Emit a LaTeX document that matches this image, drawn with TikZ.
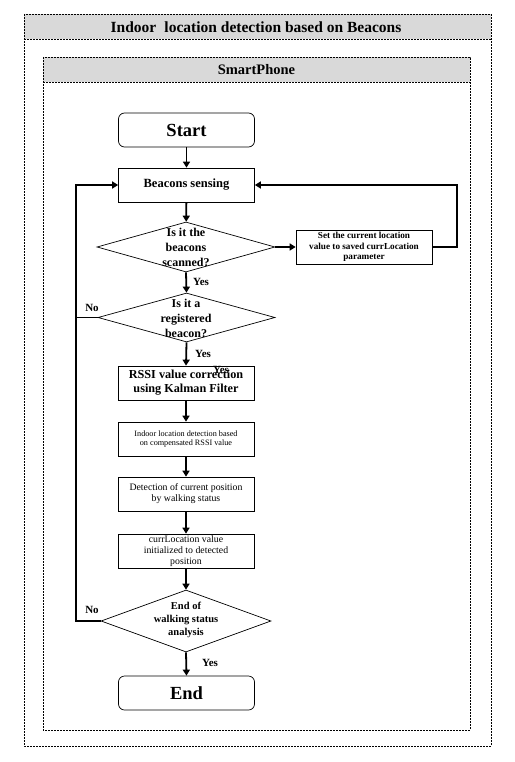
\documentclass[tikz,border=0pt]{standalone}
\usepackage{fontspec}
\setmainfont{Liberation Serif}
\usetikzlibrary{shapes.geometric,arrows.meta}
\definecolor{hdrgray}{HTML}{D9D9D9}
\tikzset{
  frame/.style={draw=black,line width=0.6pt,dash pattern=on 2pt off 1pt},
  box/.style={draw=black,line width=0.7pt,minimum width=136pt,minimum height=34pt,inner sep=0pt,align=center},
  term/.style={box,rounded corners=6pt,font=\fontsize{18.5}{20}\selectfont\bfseries},
  dia/.style={draw=black,line width=0.7pt,diamond,inner sep=0pt},
  flow/.style={line width=1.8pt,-{Triangle[length=6pt,width=7pt]}},
  plain/.style={line width=1.8pt},
  yn/.style={font=\fontsize{11}{12}\selectfont\bfseries,inner sep=0pt}
}
\begin{document}
\begin{tikzpicture}[x=1pt,y=-1pt]
\useasboundingbox (0,0) rectangle (514,762);
% outer frame
\fill[hdrgray] (24,14) rectangle (491,39);
\draw[frame] (24,14) rectangle (491,746);
\draw[frame] (24,39) -- (491,39);
\node[font=\fontsize{15.5}{17}\selectfont\bfseries] (title) at (256,27) {Indoor\; location detection based on Beacons};
% inner frame
\fill[hdrgray] (43,57) rectangle (470,82);
\draw[frame] (43,57) rectangle (470,730);
\draw[frame] (43,82) -- (470,82);
\node[font=\fontsize{14.5}{16}\selectfont\bfseries] (phone) at (256.5,70) {SmartPhone};
% nodes
\node[term] (start) at (186.5,130) {Start};
\node[box,font=\fontsize{12.5}{14}\selectfont\bfseries] (bs) at (186.5,185) {Beacons sensing};
\node[dia,minimum width=178pt,minimum height=50pt] (d1) at (186,247) {};
\node[font=\fontsize{12}{15}\selectfont\bfseries,align=center,inner sep=0pt] (d1t) at (186,247) {Is it the\\beacons\\scanned?};
\node[draw=black,line width=0.7pt,minimum width=136pt,minimum height=34pt,inner sep=0pt,align=center,font=\fontsize{9.2}{10.5}\selectfont\bfseries] (set) at (364,247) {Set the current location\\value to saved currLocation\\parameter};
\node[dia,minimum width=177pt,minimum height=49pt] (d2) at (186.5,317.5) {};
\node[font=\fontsize{12}{15}\selectfont\bfseries,align=center,inner sep=0pt] (d2t) at (186,318) {Is it a\\registered\\beacon?};
\node[box,font=\fontsize{12.2}{14}\selectfont\bfseries] (rssi) at (186,383) {RSSI value correction\\using Kalman Filter};
\node[box,font=\fontsize{8.2}{9.5}\selectfont] (ild) at (186,439) {Indoor location detection based\\on compensated RSSI value};
\node[box,font=\fontsize{9.8}{11}\selectfont] (det) at (186,494) {Detection of current position\\by walking status};
\node[box,font=\fontsize{9.8}{11.2}\selectfont] (cur) at (186,551) {currLocation value\\initialized to detected\\position};
\node[dia,minimum width=170pt,minimum height=62pt] (d3) at (186,621) {};
\node[font=\fontsize{10.5}{13}\selectfont\bfseries,align=center,inner sep=0pt] (d3t) at (186,620) {End of\\walking status\\analysis};
\node[term] (end) at (186.5,693) {End};
% loop coordinates
\coordinate (lt) at (76,185);
\coordinate (rt) at (457,185);
% connectors
\draw[flow] (start) -- (bs);
\draw[flow] (bs) -- (d1);
\draw[flow] (d1.east) -- (set.west);
\draw[flow] (set.east) -| (rt) -- (bs.east);
\draw[flow] (d1.south) -- (d2.north);
\draw[flow] (d2.south) -- (rssi.north);
\draw[flow] (rssi) -- (ild);
\draw[flow] (ild) -- (det);
\draw[flow] (det) -- (cur);
\draw[flow] (cur) -- (d3.north);
\draw[flow] (d3.south) -- (end.north);
\draw[flow] (d3.west) -| (lt) -- (bs.west);
\draw[plain] (d2.west) -- (d2.west -| lt);
% labels
\node[yn] (y1) at (201,282) {Yes};
\node[yn] (y2) at (203,354) {Yes};
\node[yn] (y2b) at (221,370) {Yes};
\node[yn] (y3) at (210,663) {Yes};
\node[yn] (n1) at (92,308) {No};
\node[yn] (n2) at (92,610) {No};
\end{tikzpicture}
\end{document}
